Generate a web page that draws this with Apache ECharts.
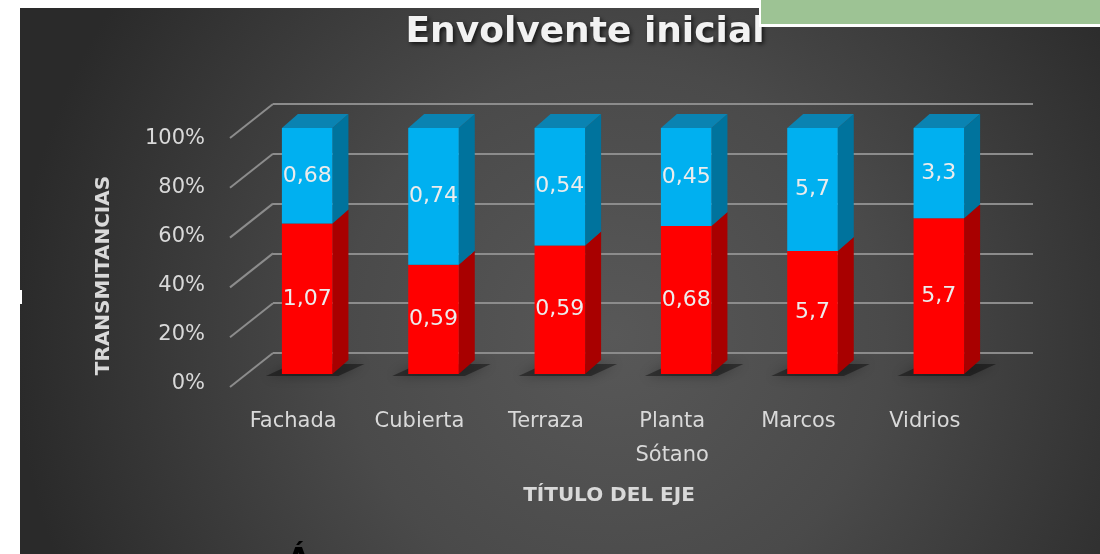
<!DOCTYPE html>
<html>
<head>
<meta charset="utf-8">
<script src="https://cdn.jsdelivr.net/npm/echarts@6/dist/echarts.min.js"></script>
<style>
  html, body { margin: 0; padding: 0; background: #fff; }
  #chart { width: 1100px; height: 554px; }
</style>
</head>
<body>
<div id="chart"></div>
<script>
const categories = ['Fachada', 'Cubierta', 'Terraza', 'Planta\nSótano', 'Marcos', 'Vidrios'];
const rojo = [1.07, 0.59, 0.59, 0.68, 5.7, 5.7];
const azul = [0.68, 0.74, 0.54, 0.45, 5.7, 3.3];
const yTicks = [0, 20, 40, 60, 80, 100];

const fmt = (v) => String(v).replace('.', ',');

// 100% stacked: [index, start %, end %, raw value]
const rojoData = rojo.map((v, i) => [i, 0, v / (v + azul[i]) * 100, v]);
const azulData = azul.map((v, i) => [i, rojo[i] / (rojo[i] + v) * 100, 100, v]);

const DX = 16, DY = -14;
const FONT = 'DejaVu Sans';

function renderBar(front, side, top, isTop) {
  return function (params, api) {
    const i = api.value(0);
    const p0 = api.coord([i, api.value(1)]);
    const p1 = api.coord([i, api.value(2)]);
    const w = api.size([1, 0])[0] * 0.4;
    const x0 = p0[0] - w / 2;
    const x1 = p0[0] + w / 2;
    const y0 = p0[1];
    const children = [];
    if (!isTop) {
      // floor shadow
      children.push({
        type: 'polygon',
        shape: { points: [[x0 - 16, y0 + 2], [x1 + 6, y0 + 2], [x1 + DX + 16, y0 + DY + 4], [x0 + DX - 6, y0 + DY + 4]] },
        style: { fill: 'rgba(0,0,0,0.4)', shadowBlur: 12, shadowColor: 'rgba(0,0,0,0.75)' }
      });
    }
    children.push({
      type: 'polygon',
      shape: { points: [[x1, y0], [x1, p1[1]], [x1 + DX, p1[1] + DY], [x1 + DX, y0 + DY]] },
      style: { fill: side }
    });
    if (isTop) {
      children.push({
        type: 'polygon',
        shape: { points: [[x0, p1[1]], [x1, p1[1]], [x1 + DX, p1[1] + DY], [x0 + DX, p1[1] + DY]] },
        style: { fill: top }
      });
    }
    children.push({
      type: 'rect',
      shape: { x: x0, y: p1[1], width: w, height: y0 - p1[1] },
      style: { fill: front }
    });
    children.push({
      type: 'text',
      style: {
        text: fmt(api.value(3)),
        x: p0[0], y: (y0 + p1[1]) / 2,
        align: 'center', verticalAlign: 'middle',
        fill: '#ececec', fontSize: 22, fontFamily: FONT
      }
    });
    return { type: 'group', children: children };
  };
}

const chart = echarts.init(document.getElementById('chart'));

const option = {
  backgroundColor: '#ffffff',
  animation: false,
  textStyle: { fontFamily: FONT },
  title: {
    text: 'Envolvente inicial',
    left: 580,
    top: 10,
    textAlign: 'center',
    textStyle: {
      color: '#f2f2f2', fontSize: 36, fontWeight: 'bold', fontFamily: FONT,
      textShadowColor: 'rgba(0,0,0,0.7)', textShadowBlur: 4, textShadowOffsetX: 2, textShadowOffsetY: 2
    }
  },
  graphic: [
    {
      type: 'rect', z: -10, silent: true,
      shape: { x: 20, y: 8, width: 1080, height: 546 },
      style: {
        fill: new echarts.graphic.RadialGradient(0.55, 0.6, 1.1, [
          { offset: 0, color: '#585858' },
          { offset: 0.45, color: '#4a4a4a' },
          { offset: 1, color: '#2a2a2a' }
        ])
      }
    },
    {
      type: 'rect', z: 100, silent: true,
      shape: { x: 759, y: 0, width: 341, height: 27 },
      style: { fill: '#ffffff' }
    },
    {
      type: 'rect', z: 101, silent: true,
      shape: { x: 761, y: 0, width: 339, height: 24 },
      style: { fill: '#9dc394' }
    },
    {
      type: 'rect', z: 100, silent: true,
      shape: { x: 18, y: 290, width: 4, height: 14 },
      style: { fill: '#ffffff' }
    },
    {
      type: 'text', z: 100, silent: true,
      style: { text: 'Á', x: 287, y: 546, fill: '#000000', fontSize: 30, fontWeight: 'bold', fontFamily: FONT }
    }
  ],
  grid: [
    // back wall
    { left: 273, right: 67, top: 104, bottom: 201 },
    // front plane (labels)
    { left: 230, right: 112, top: 139, bottom: 170 },
    // bar front faces
    { left: 244, right: 98, top: 128, bottom: 180 }
  ],
  xAxis: [
    { gridIndex: 0, type: 'value', min: 0, max: 1, show: false },
    {
      gridIndex: 1, type: 'category', data: categories,
      axisLine: { show: false }, axisTick: { show: false },
      axisLabel: { color: '#d9d9d9', fontSize: 21, lineHeight: 34, margin: 21 },
      name: 'TÍTULO DEL EJE', nameLocation: 'middle', nameGap: 102,
      nameTextStyle: { color: '#d9d9d9', fontSize: 20, fontWeight: 'bold' }
    },
    { gridIndex: 2, type: 'category', data: categories, show: false }
  ],
  yAxis: [
    {
      gridIndex: 0, type: 'value', min: 0, max: 100, interval: 20,
      axisLine: { show: false }, axisTick: { show: false }, axisLabel: { show: false },
      splitLine: { lineStyle: { color: '#8c8c8c', width: 2 } }
    },
    {
      gridIndex: 1, type: 'value', min: 0, max: 100, interval: 20,
      axisLine: { show: false }, axisTick: { show: false }, splitLine: { show: false },
      axisLabel: { color: '#d9d9d9', fontSize: 21, margin: 25, formatter: '{value}%' },
      name: 'TRANSMITANCIAS', nameLocation: 'middle', nameGap: 116, nameRotate: 90,
      nameTextStyle: { color: '#d9d9d9', fontSize: 20, fontWeight: 'bold', padding: [0, 28, 0, 0] }
    },
    { gridIndex: 2, type: 'value', min: 0, max: 100, show: false }
  ],
  series: [
    {
      type: 'custom', xAxisIndex: 0, yAxisIndex: 0, silent: true,
      data: yTicks.map((v) => [0, v]),
      renderItem: function (params, api) {
        const p = api.coord([api.value(0), api.value(1)]);
        return {
          type: 'line',
          shape: { x1: p[0], y1: p[1], x2: p[0] - 43, y2: p[1] + 34 },
          style: { stroke: '#8c8c8c', lineWidth: 2 }
        };
      }
    },
    {
      type: 'custom', xAxisIndex: 2, yAxisIndex: 2, z: 3,
      data: rojoData,
      renderItem: renderBar('#ff0000', '#a80000', '#c00000', false)
    },
    {
      type: 'custom', xAxisIndex: 2, yAxisIndex: 2, z: 4,
      data: azulData,
      renderItem: renderBar('#00b0f0', '#00739d', '#0a83b2', true)
    }
  ]
};

chart.setOption(option);
</script>
</body>
</html>
